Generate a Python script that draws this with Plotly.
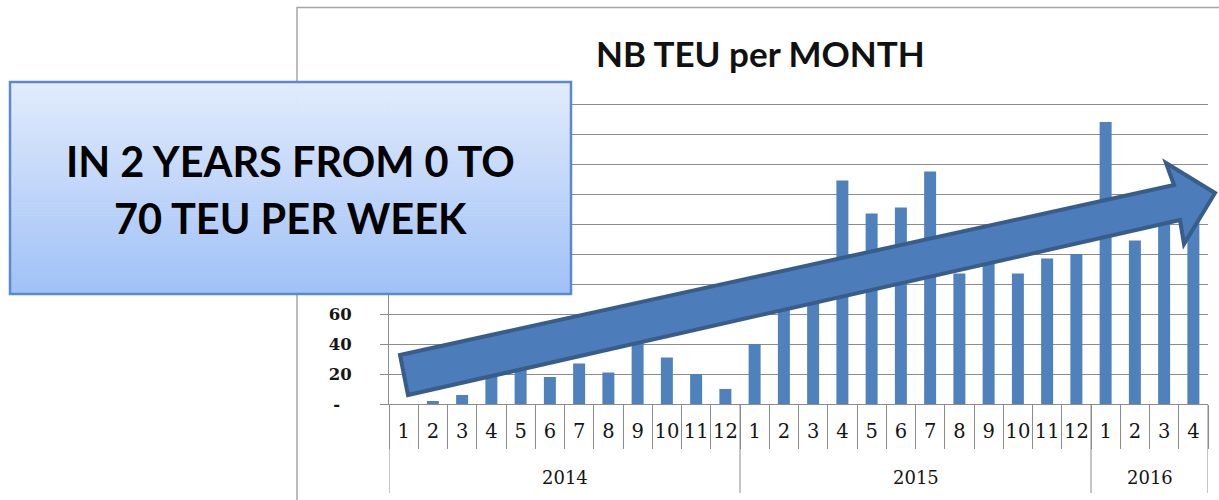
import plotly.graph_objects as go

# ---- data ----
years = ["2014"] * 12 + ["2015"] * 12 + ["2016"] * 4
months = [str(m) for m in range(1, 13)] * 2 + ["1", "2", "3", "4"]
teu = [0, 2, 6, 24, 28, 18, 27, 21, 42, 31, 20, 10,
       40, 75, 78, 149, 127, 131, 155, 87, 95, 87, 97, 100,
       188, 109, 130, 135]
y_tickvals = list(range(0, 201, 20))
y_ticktext = ["-\u2007", "20", "40", "60", "", "", "", "", "", "", ""]  # 80-200 hidden behind the callout
title_text = "NB TEU per MONTH"
callout_lines = ["IN 2 YEARS FROM 0 TO", "70 TEU PER WEEK"]

W, H = 1219, 500
YMAX = 202
PXU = 1.5                      # pixels per TEU unit
ML, MR, MB = 389, 11, 96
PH = int(round(YMAX * PXU))
MT = H - MB - PH
PW = W - ML - MR
BASE = H - MB                  # pixel row of value 0


def px(x):
    return (x - ML) / PW


def py(y):
    return (BASE - y) / PH


BAR = "#4F81BD"
GRID = "#8c8c8c"
FONT_AX = "DejaVu Serif"
TXT = "#151515"

idx = list(range(len(months)))

fig = go.Figure()
fig.add_trace(go.Bar(x=idx, y=teu, marker=dict(color=BAR, line=dict(width=0)),
                     showlegend=False, hoverinfo="skip"))

shapes = []
annotations = []

# year groups: labels and dividers
groups = []
for i, yv in enumerate(years):
    if not groups or groups[-1][0] != yv:
        groups.append([yv, i, i])
    else:
        groups[-1][2] = i
bounds = sorted(set([g[1] - 0.5 for g in groups] + [g[2] + 0.5 for g in groups]))
for b in bounds:
    shapes.append(dict(type="line", xref="x", yref="paper", x0=b, x1=b, y0=0, y1=py(493),
                       line=dict(color=GRID, width=1), layer="below"))
for yv, a, b in groups:
    annotations.append(dict(text=yv, xref="x", yref="paper", x=(a + b) / 2, y=py(477),
                            showarrow=False, xanchor="center", yanchor="middle",
                            font=dict(family=FONT_AX, size=18, color=TXT)))

# chart card border
shapes.append(dict(type="rect", xref="paper", yref="paper", x0=px(297), x1=px(1260),
                   y0=py(560), y1=py(7.5), line=dict(color="#a6a6a6", width=1.5),
                   fillcolor="rgba(0,0,0,0)", layer="below"))

# callout box with vertical gradient
bx0, bx1, by0, by1 = 10, 571, 82, 294
n = 70
c_top = (225, 235, 252)
c_bot = (160, 193, 247)
for i in range(n):
    t = i / (n - 1)
    col = tuple(int(round(c_top[k] + (c_bot[k] - c_top[k]) * t)) for k in range(3))
    ya = by0 + (by1 - by0) * i / n
    yb = by0 + (by1 - by0) * (i + 1) / n
    shapes.append(dict(type="rect", xref="paper", yref="paper", x0=px(bx0), x1=px(bx1),
                       y0=py(yb + 0.6), y1=py(ya), line=dict(width=0),
                       fillcolor="rgb(%d,%d,%d)" % col, layer="above"))
shapes.append(dict(type="rect", xref="paper", yref="paper", x0=px(bx0), x1=px(bx1),
                   y0=py(by1), y1=py(by0), line=dict(color="#5a88d2", width=2.5),
                   fillcolor="rgba(0,0,0,0)", layer="above"))

# trend arrow
pts = [(400, 355), (1174, 185), (1166, 163), (1215, 193), (1184, 244), (1180, 220), (408, 395)]
path = "M " + " L ".join("%.5f,%.5f" % (px(a), py(b)) for a, b in pts) + " Z"
shapes.append(dict(type="path", xref="paper", yref="paper", path=path,
                   fillcolor="#4C7DBA", line=dict(color="#385D8A", width=4), layer="above"))

annotations += [
    dict(text="<b>%s</b>" % title_text, xref="paper", yref="paper", x=px(760), y=py(53),
         showarrow=False, xanchor="center", yanchor="middle",
         font=dict(family="Lato", size=35, color="#111111")),
    dict(text="<b>%s</b>" % callout_lines[0], xref="paper", yref="paper", x=px(290), y=py(161),
         showarrow=False, xanchor="center", yanchor="middle",
         font=dict(family="Lato", size=41.5, color="#000000")),
    dict(text="<b>%s</b>" % callout_lines[1], xref="paper", yref="paper", x=px(290), y=py(218),
         showarrow=False, xanchor="center", yanchor="middle",
         font=dict(family="Lato", size=41.5, color="#000000")),
]

fig.update_layout(
    width=W, height=H,
    margin=dict(l=ML, r=MR, t=MT, b=MB, pad=0),
    paper_bgcolor="white", plot_bgcolor="white",
    bargap=0.59,
    shapes=shapes,
    annotations=annotations,
    xaxis=dict(range=[-0.5, len(months) - 0.5], tickvals=idx, ticktext=months, ticks="",
               showline=True, linecolor=GRID, linewidth=1, showgrid=False, zeroline=False,
               tickfont=dict(family=FONT_AX, size=19.5, color=TXT),
               ticklabelstandoff=10, automargin=False,
               minor=dict(tick0=-0.5, dtick=1, ticks="outside", ticklen=44,
                          tickcolor=GRID, tickwidth=1, showgrid=False)),
    yaxis=dict(range=[0, YMAX], tickvals=y_tickvals, ticktext=y_ticktext,
               showgrid=True, gridcolor=GRID, gridwidth=1, ticks="outside", ticklen=8,
               tickcolor=GRID, showline=True, linecolor=GRID, linewidth=1,
               zeroline=False, ticklabelstandoff=25, automargin=False,
               tickfont=dict(family=FONT_AX, size=16.5, color=TXT, weight="bold")),
)

fig.write_html("out.html", config={"displayModeBar": False},
               post_script="document.body.style.margin='0px';document.body.style.padding='0px';")
